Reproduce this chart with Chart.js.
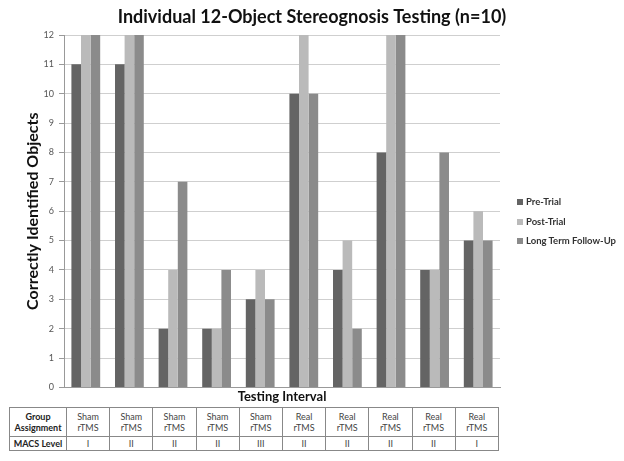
<!DOCTYPE html>
<html>
<head>
<meta charset="utf-8">
<script src="https://cdn.jsdelivr.net/npm/chart.js@4/dist/chart.umd.min.js"></script>
<style>
  body { margin: 0; background: #fff; font-family: Lato, "Open Sans", sans-serif; }
  #wrap { position: relative; width: 624px; height: 461px; }
  #chart { position: absolute; left: 0; top: 0; }
  #legend { position: absolute; left: 517px; top: 195px; font: bold 9.5px Lato, sans-serif; color: #333; }
  #legend div { height: 19.5px; line-height: 14px; white-space: nowrap; }
  #legend span { display: inline-block; width: 6px; height: 6px; margin-right: 3px; }
  #tbl { position: absolute; left: 9px; top: 407px; width: 490px; border-collapse: collapse;
         font: 9px Lato, sans-serif; color: #444; table-layout: fixed; opacity: 0.999; }
  #tbl td { border: 1px solid #888; text-align: center; padding: 0; line-height: 11px; }
  #tbl td.h { font-weight: bold; color: #222; width: 56px; }
</style>
</head>
<body>
<div id="wrap">
  <canvas id="chart" width="624" height="405"></canvas>
  <div id="legend"></div>
  <table id="tbl"></table>
</div>
<script>
// ================= DATA =================
const participants = ["1", "2", "3", "4", "5", "6", "7", "8", "9", "10"];
const preTrial = [11, 11, 2, 2, 3, 10, 4, 8, 4, 5];
const postTrial = [12, 12, 4, 2, 4, 12, 5, 12, 4, 6];
const longTerm = [12, 12, 7, 4, 3, 10, 2, 12, 8, 5];
const seriesNames = ["Pre-Trial", "Post-Trial", "Long Term Follow-Up"];
const seriesColors = ["#646464", "#bababa", "#8b8b8b"];
const groupAssignment = ["Sham rTMS", "Sham rTMS", "Sham rTMS", "Sham rTMS", "Sham rTMS",
                         "Real rTMS", "Real rTMS", "Real rTMS", "Real rTMS", "Real rTMS"];
const macsLevel = ["I", "II", "II", "II", "III", "II", "II", "II", "II", "I"];
const yTicks = [0, 1, 2, 3, 4, 5, 6, 7, 8, 9, 10, 11, 12];

// ================= CHART =================
const seriesData = [preTrial, postTrial, longTerm];
const datasets = seriesNames.map((name, i) => ({
  label: name,
  data: seriesData[i],
  backgroundColor: seriesColors[i],
  borderWidth: 0,
  categoryPercentage: 0.66,
  barPercentage: 1.0
}));

new Chart(document.getElementById("chart"), {
  type: "bar",
  data: { labels: participants, datasets },
  options: {
    responsive: false,
    animation: false,
    layout: { padding: 0 },
    plugins: {
      legend: { display: false },
      tooltip: { enabled: false },
      title: {
        display: true,
        text: "Individual 12-Object Stereognosis Testing (n=10)",
        color: "#111",
        font: { family: "Lato", size: 18, weight: "bold" },
        padding: { top: 6, bottom: 7.4 }
      }
    },
    scales: {
      x: {
        ticks: { display: false },
        grid: { display: false, drawTicks: false },
        border: { color: "#999" },
        title: {
          display: true,
          text: "Testing Interval",
          color: "#111",
          font: { family: "Lato", size: 13, weight: "bold" },
          padding: { top: 2, bottom: 0 }
        }
      },
      y: {
        min: 0,
        max: 12,
        afterBuildTicks: scale => { scale.ticks = yTicks.map(v => ({ value: v })); },
        afterFit: scale => { scale.width = 64; },
        ticks: { color: "#555", font: { family: "Lato", size: 9 }, padding: 5 },
        grid: { color: "#cfcfcf", tickLength: 5, tickColor: "#999" },
        border: { color: "#999" },
        title: {
          display: true,
          text: "Correctly Identified Objects",
          color: "#111",
          font: { family: "Lato", size: 16, weight: "bold" },
          padding: { top: 23, bottom: 0 }
        }
      },
      // empty right-hand axis keeps room for the legend
      side: {
        position: "right",
        display: true,
        ticks: { display: false },
        grid: { display: false, drawTicks: false },
        border: { display: false },
        afterFit: scale => { scale.width = 124; }
      }
    }
  }
});

// ================= LEGEND =================
document.getElementById("legend").innerHTML = seriesNames.map((n, i) =>
  `<div><span style="background:${seriesColors[i]}"></span>${n}</div>`).join("");

// ================= TABLE =================
const row1 = groupAssignment.map(g => `<td>${g.replace(" ", "<br>")}</td>`).join("");
const row2 = macsLevel.map(m => `<td>${m}</td>`).join("");
document.getElementById("tbl").innerHTML =
  `<tr style="height:29px"><td class="h">Group<br>Assignment</td>${row1}</tr>` +
  `<tr style="height:14px"><td class="h">MACS Level</td>${row2}</tr>`;
</script>
</body>
</html>
